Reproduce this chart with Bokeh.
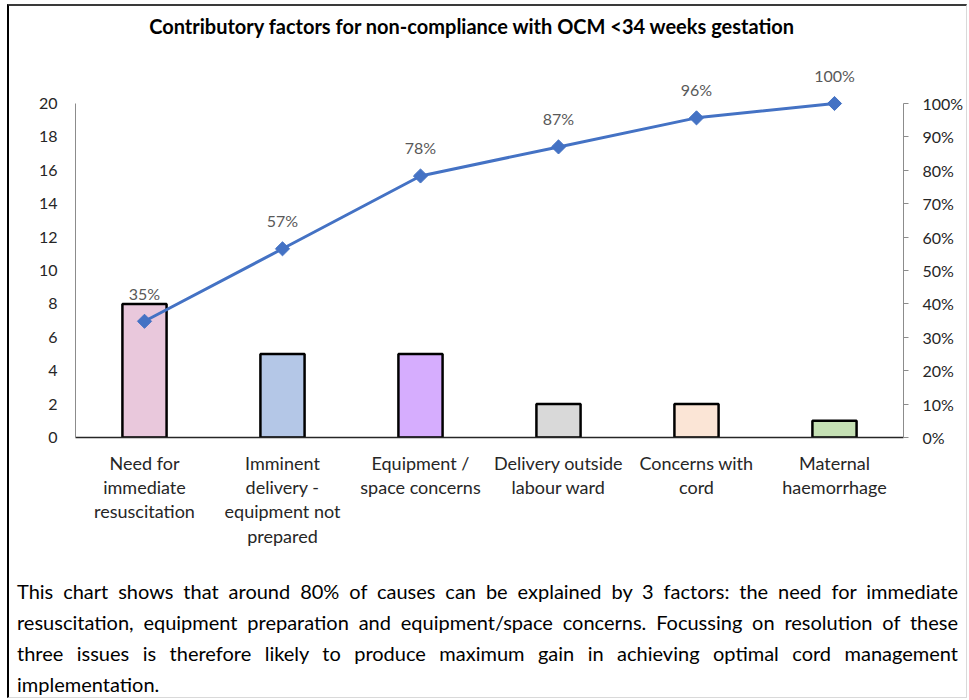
import math
from bokeh.plotting import figure
from bokeh.models import (Range1d, LinearAxis, FixedTicker, NumeralTickFormatter,
                          ColumnDataSource, LabelSet, Label, Div)
from bokeh.layouts import column
from bokeh.core.properties import value
from bokeh.embed import file_html
from bokeh.resources import INLINE

# ---- data ----
title_text = "Contributory factors for non-compliance with OCM <34 weeks gestation"
categories = ["Need for immediate resuscitation",
              "Imminent delivery - equipment not prepared",
              "Equipment / space concerns",
              "Delivery outside labour ward",
              "Concerns with cord",
              "Maternal haemorrhage"]
tick_labels = ["Need for\nimmediate\nresuscitation",
               "Imminent\ndelivery -\nequipment not\nprepared",
               "Equipment /\nspace concerns",
               "Delivery outside\nlabour ward",
               "Concerns with\ncord",
               "Maternal\nhaemorrhage"]
counts = [8, 5, 5, 2, 2, 1]
cumulative = [0.348, 0.565, 0.783, 0.870, 0.957, 1.000]
cum_labels = ["35%", "57%", "78%", "87%", "96%", "100%"]
bar_colors = ["#E9C8DC", "#B4C7E7", "#D6ADFE", "#D9D9D9", "#FBE5D6", "#C5E0B4"]
left_ticks = [0, 2, 4, 6, 8, 10, 12, 14, 16, 18, 20]
right_ticks = [0, 0.1, 0.2, 0.3, 0.4, 0.5, 0.6, 0.7, 0.8, 0.9, 1.0]
paragraph_lines = [
    "This chart shows that around 80% of causes can be explained by 3 factors: the need for immediate",
    "resuscitation, equipment preparation and equipment/space concerns. Focussing on resolution of these",
    "three issues is therefore likely to produce maximum gain in achieving optimal cord management",
    "implementation.",
]

FONT = "Lato"

# ---- layout constants (pixels) ----
FRAME_W = 828
AXIS_H = 334            # height of the 0..20 axis span
HEADROOM = 93           # extra frame space above the axes for title and labels
FRAME_H = AXIS_H + HEADROOM
Y_MAX = 20
Y_TOP = Y_MAX * FRAME_H / AXIS_H
P_TOP = 1.0 * FRAME_H / AXIS_H

xs = [i + 0.5 for i in range(len(categories))]

p = figure(width=957, height=547, x_range=Range1d(0, len(categories)), y_range=Range1d(0, Y_TOP),
           output_backend="svg", toolbar_location=None,
           min_border_left=66, min_border_right=957 - 66 - FRAME_W, min_border_top=4,
           min_border_bottom=547 - 4 - FRAME_H)
p.outline_line_color = None
p.xgrid.visible = False
p.ygrid.visible = False
p.background_fill_color = "white"
p.border_fill_color = "white"

# left axis
yax = p.yaxis[0]
yax.ticker = FixedTicker(ticks=left_ticks)
yax.bounds = (0, Y_MAX)
yax.major_tick_out = 0
yax.major_tick_in = 0
yax.minor_tick_out = 0
yax.minor_tick_in = 0
yax.axis_line_color = "#8C8C8C"
yax.major_label_standoff = 18
yax.major_label_text_font = FONT
yax.major_label_text_font_size = "16px"
yax.major_label_text_color = "#262626"

# x axis
xax = p.xaxis[0]
xax.ticker = FixedTicker(ticks=xs)
xax.major_label_overrides = {x: t for x, t in zip(xs, tick_labels)}
xax.major_tick_out = 0
xax.major_tick_in = 0
xax.minor_tick_out = 0
xax.minor_tick_in = 0
xax.axis_line_color = "#262626"
xax.axis_line_width = 1.5
xax.major_label_standoff = 14
xax.major_label_text_font = FONT
xax.major_label_text_font_size = "18px"
xax.major_label_text_color = "#262626"
xax.major_label_text_line_height = 1.11

# right axis
p.extra_y_ranges = {"pct": Range1d(0, P_TOP)}
rax = LinearAxis(y_range_name="pct", ticker=FixedTicker(ticks=right_ticks),
                 formatter=NumeralTickFormatter(format="0%"))
rax.bounds = (0, 1)
rax.major_tick_out = 5
rax.major_tick_in = 0
rax.minor_tick_out = 0
rax.minor_tick_in = 0
rax.axis_line_color = "#8C8C8C"
rax.major_tick_line_color = "#8C8C8C"
rax.major_label_standoff = 14
rax.major_label_text_font = FONT
rax.major_label_text_font_size = "16px"
rax.major_label_text_color = "#262626"
p.add_layout(rax, "right")

# bars
p.vbar(x=xs, top=counts, width=0.32, fill_color=bar_colors, line_color="black", line_width=2.5)

# pareto line
p.line(xs, cumulative, y_range_name="pct", line_color="#4472C4", line_width=3)
p.scatter(xs, cumulative, y_range_name="pct", marker="square", angle=math.pi / 4, size=10,
          fill_color="#4472C4", line_color="#4472C4")

src = ColumnDataSource(dict(x=xs, y=cumulative, t=cum_labels))
p.add_layout(LabelSet(x="x", y="y", text="t", source=src, y_range_name="pct", y_offset=28,
                      text_align="center", text_baseline="middle", text_font=value(FONT),
                      text_font_size="16px", text_color="#595959"))

# title (placed in the headroom above the axes)
p.add_layout(Label(x=(472 - 75) / 138, y=Y_MAX * (437 - 25) / AXIS_H, text=title_text,
                   text_align="center", text_baseline="middle", text_font=FONT,
                   text_font_style="bold", text_font_size="20px", text_color="black"))

line_divs = []
for i, ln in enumerate(paragraph_lines):
    last = i == len(paragraph_lines) - 1
    align = "text-align:left;" if last else "text-align:justify;text-align-last:justify;"
    line_divs.append(f'<div style="{align}width:941px;height:31px;line-height:31px;">{ln}</div>')
html = ('<div style="box-sizing:content-box;width:941px;padding:23px 0 0 8px;margin:0;'
        'font-family:Lato;font-size:20px;color:black;">' + "".join(line_divs) + "</div>")
div = Div(text=html, width=957, height=144, margin=0, styles={"overflow": "hidden"})

layout = column(p, div, styles={"margin-left": "7px", "margin-top": "4px",
                                "border-left": "2px solid black", "border-top": "2px solid #3a3a3a",
                                "border-right": "1px solid #d9d9d9", "border-bottom": "1px solid #d9d9d9",
                                "background": "white"})

open("out.html", "w").write(file_html(layout, INLINE))
